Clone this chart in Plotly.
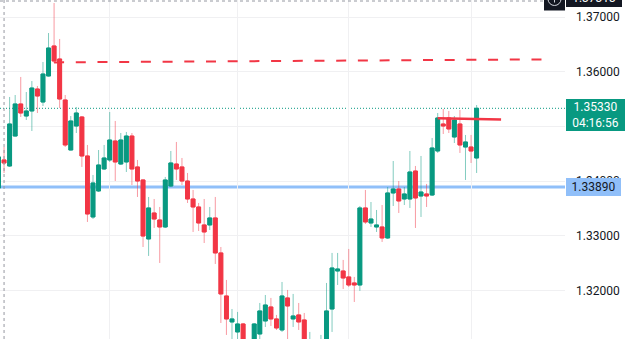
import plotly.graph_objects as go

# ---- data ----
bar_index = list(range(87))
open_ = [1.33872, 1.34385, 1.34275, 1.34823, 1.35409, 1.35189, 1.35281, 1.35683, 1.35445, 1.35921,
         1.36470, 1.36232, 1.35482, 1.34567, 1.35006, 1.35171, 1.34458, 1.33342, 1.33818, 1.34220,
         1.34385, 1.34732, 1.34311, 1.34348, 1.34823, 1.34257, 1.34019, 1.32940, 1.33415, 1.33287,
         1.33159, 1.33909, 1.34311, 1.34257, 1.34000, 1.33671, 1.33525, 1.33196, 1.33196, 1.33324,
         1.32684, 1.31897, 1.31422, 1.31239, 1.31385, 1.30700, 1.30900, 1.31202, 1.31440, 1.31696,
         1.31477, 1.31275, 1.31861, 1.31477, 1.31550, 1.31458, 1.30750, 1.30950, 1.30780, 1.30909,
         1.31659, 1.32354, 1.32354, 1.32245, 1.32135, 1.32098, 1.33507, 1.33232, 1.33159, 1.33159,
         1.32958, 1.33781, 1.33854, 1.33671, 1.33671, 1.34183, 1.33726, 1.33763, 1.33744, 1.34549,
         1.35043, 1.35153, 1.34805, 1.35043, 1.34622, 1.34622, 1.34421]
high = [1.34476, 1.34622, 1.35537, 1.35573, 1.35903, 1.35628, 1.35829, 1.35738, 1.36177, 1.36707,
        1.37256, 1.36598, 1.35573, 1.35189, 1.35354, 1.35189, 1.34659, 1.34110, 1.34567, 1.34659,
        1.35262, 1.35098, 1.34878, 1.34897, 1.34878, 1.34385, 1.34030, 1.33708, 1.33671, 1.33525,
        1.34074, 1.34549, 1.34714, 1.34421, 1.34147, 1.33836, 1.33598, 1.33671, 1.33525, 1.33708,
        1.32793, 1.32190, 1.31659, 1.31605, 1.31403, 1.31050, 1.31400, 1.31769, 1.31915, 1.31861,
        1.31550, 1.32153, 1.32007, 1.31934, 1.31769, 1.31586, 1.31239, 1.31050, 1.31184, 1.32135,
        1.32684, 1.32684, 1.32556, 1.32757, 1.32245, 1.33543, 1.33836, 1.33616, 1.33470, 1.33561,
        1.33891, 1.34366, 1.34000, 1.33891, 1.34549, 1.34275, 1.34458, 1.33946, 1.34787, 1.35244,
        1.35317, 1.35281, 1.35189, 1.35299, 1.34842, 1.34842, 1.35390]
low = [1.33836, 1.34147, 1.34257, 1.34815, 1.35171, 1.35116, 1.34915, 1.35244, 1.35372, 1.35910,
       1.36159, 1.35336, 1.34622, 1.34560, 1.34878, 1.34257, 1.33251, 1.33305, 1.33799, 1.34202,
       1.34348, 1.34000, 1.34293, 1.34165, 1.33927, 1.33708, 1.32793, 1.32629, 1.33141, 1.32501,
       1.33141, 1.33891, 1.34019, 1.33927, 1.33598, 1.33068, 1.33086, 1.32866, 1.33104, 1.32482,
       1.31403, 1.31184, 1.31001, 1.31001, 1.30727, 1.30600, 1.30800, 1.31050, 1.31330, 1.31348,
       1.31275, 1.31239, 1.31001, 1.31330, 1.31275, 1.30727, 1.30650, 1.30700, 1.30700, 1.30820,
       1.31239, 1.32098, 1.32025, 1.32062, 1.31787, 1.31989, 1.33214, 1.33159, 1.33068, 1.32885,
       1.32940, 1.33543, 1.33415, 1.33561, 1.33507, 1.33141, 1.33342, 1.33525, 1.33726, 1.34513,
       1.34860, 1.34878, 1.34695, 1.34513, 1.34019, 1.34330, 1.34147]
close = [1.34440, 1.34330, 1.35043, 1.35409, 1.35244, 1.35281, 1.35701, 1.35555, 1.35957, 1.36433,
         1.36195, 1.35500, 1.34659, 1.35098, 1.35244, 1.34458, 1.33397, 1.33964, 1.34293, 1.34421,
         1.34750, 1.34348, 1.34750, 1.34823, 1.34220, 1.34000, 1.32994, 1.33507, 1.33305, 1.33159,
         1.34019, 1.34330, 1.34220, 1.34000, 1.33671, 1.33525, 1.33232, 1.33068, 1.33324, 1.32684,
         1.31934, 1.31477, 1.31477, 1.31385, 1.30909, 1.30950, 1.31385, 1.31623, 1.31732, 1.31477,
         1.31312, 1.31897, 1.31714, 1.31531, 1.31422, 1.30909, 1.31050, 1.30800, 1.31050, 1.31623,
         1.32409, 1.32391, 1.32226, 1.32098, 1.32098, 1.33507, 1.33251, 1.33305, 1.33196, 1.32958,
         1.33781, 1.33854, 1.33635, 1.33763, 1.34165, 1.33690, 1.33799, 1.33726, 1.34604, 1.35153,
         1.35006, 1.34952, 1.35116, 1.34659, 1.34714, 1.34549, 1.35330]

y_ticks = [1.32, 1.33, 1.34, 1.35, 1.36, 1.37]
# 1.35000 is fully hidden behind the last-price label in the reference
y_tick_text = ["1.32000", "1.33000", "1.34000", "", "1.36000", "1.37000"]
x_grid_bars = [20, 43, 63, 85]

last_price = 1.35330
countdown = "04:16:56"
support_level = 1.33890
crosshair_price = 1.37313
crosshair_bar = 1
trend_start = (10, 1.36170)
trend_end = (98, 1.36225)
red_seg_start = (79, 1.35150)
red_seg_end = (90.4, 1.35123)

UP = "#089981"
DOWN = "#F23645"
UP_W = "rgba(8,153,129,0.5)"
DOWN_W = "rgba(242,54,69,0.5)"

body_hi = [max(o, c) for o, c in zip(open_, close)]
body_lo = [min(o, c) for o, c in zip(open_, close)]

fig = go.Figure()
# wicks
fig.add_trace(go.Candlestick(
    x=bar_index, open=open_, high=high, low=low, close=close,
    increasing=dict(line=dict(color=UP_W, width=1), fillcolor=UP_W),
    decreasing=dict(line=dict(color=DOWN_W, width=1), fillcolor=DOWN_W),
    hoverinfo="skip", showlegend=False))
# bodies
fig.add_trace(go.Candlestick(
    x=bar_index, open=open_, high=body_hi, low=body_lo, close=close,
    increasing=dict(line=dict(color=UP, width=1), fillcolor=UP),
    decreasing=dict(line=dict(color=DOWN, width=1), fillcolor=DOWN),
    showlegend=False))

W, H = 625, 339
PW = 565  # plot width in px


def px(xp):
    return xp / PW


def py(yp):
    return 1 - yp / H


shapes = [
    dict(type="line", xref="paper", x0=0, x1=1, yref="y", y0=support_level, y1=support_level,
         line=dict(color="#90BFF9", width=3), layer="between"),
    dict(type="line", xref="paper", x0=0, x1=1, yref="y", y0=last_price, y1=last_price,
         line=dict(color=UP, width=1, dash="1px,2px"), layer="between"),
    dict(type="line", xref="x", yref="y", x0=trend_start[0], y0=trend_start[1],
         x1=trend_end[0], y1=trend_end[1],
         line=dict(color=DOWN, width=2, dash="10px,11.7px"), layer="above"),
    dict(type="line", xref="x", yref="y", x0=red_seg_start[0], y0=red_seg_start[1],
         x1=red_seg_end[0], y1=red_seg_end[1],
         line=dict(color=DOWN, width=2.5), layer="above"),
    dict(type="line", xref="x", yref="paper", x0=crosshair_bar, x1=crosshair_bar, y0=0, y1=1,
         line=dict(color="#9598A1", width=1, dash="3px,3px"), layer="above"),
    dict(type="line", xref="paper", yref="paper", x0=0, x1=1, y0=py(1), y1=py(1),
         line=dict(color="#9598A1", width=1, dash="3px,3px"), layer="above"),
    dict(type="rect", xref="paper", yref="paper", x0=px(544), x1=px(565), y0=py(10.5), y1=py(-12),
         fillcolor="#131722", line=dict(width=0), layer="above"),
    dict(type="circle", xref="paper", yref="paper", x0=px(548), x1=px(561), y0=py(5.5), y1=py(-7.5),
         line=dict(color="#D1D4DC", width=1), layer="above"),
    dict(type="line", xref="paper", yref="paper", x0=px(554.5), x1=px(554.5), y0=py(2.5), y1=py(-4.5),
         line=dict(color="#D1D4DC", width=1), layer="above"),
]

annotations = [
    dict(xref="paper", x=px(566), xanchor="left", yref="y", y=last_price, yanchor="top", yshift=9,
         text=f"{last_price:.5f}<br>{countdown}", showarrow=False, bgcolor=UP,
         font=dict(color="white", size=12, family="Roboto"), width=59, height=32,
         borderpad=0, borderwidth=0, align="center"),
    dict(xref="paper", x=px(566), xanchor="left", yref="y", y=support_level, yanchor="middle",
         text=f"{support_level:.5f}", showarrow=False, bgcolor="#90BFF9",
         font=dict(color="#131722", size=12, family="Roboto"), width=55, height=18,
         borderpad=0, borderwidth=0),
    dict(xref="paper", x=px(566), xanchor="left", yref="paper", y=py(-1.7), yanchor="middle",
         text=f"{crosshair_price:.5f}", showarrow=False, bgcolor="#131722",
         font=dict(color="white", size=12, family="Roboto"), width=56, height=18,
         borderpad=0, borderwidth=0),
]

fig.update_layout(
    width=W, height=H,
    margin=dict(l=0, r=W - PW, t=0, b=0),
    paper_bgcolor="white", plot_bgcolor="white",
    boxgap=0.3, boxgroupgap=0,
    showlegend=False,
    shapes=shapes, annotations=annotations,
    font=dict(family="Roboto", size=12, color="#131722"),
    xaxis=dict(range=[0.27, 101.9], rangeslider=dict(visible=False), showticklabels=False,
               tickvals=x_grid_bars, showgrid=True, gridcolor="#F0F0F2", zeroline=False,
               showline=False, ticks=""),
    yaxis=dict(side="right", range=[1.31110, 1.37311], tickvals=y_ticks, ticktext=y_tick_text,
               showgrid=True, gridcolor="#F0F0F2", zeroline=False, showline=False,
               ticks="", ticklabelstandoff=10, tickfont=dict(size=12, color="#131722")),
)

fig.write_html("out.html")
